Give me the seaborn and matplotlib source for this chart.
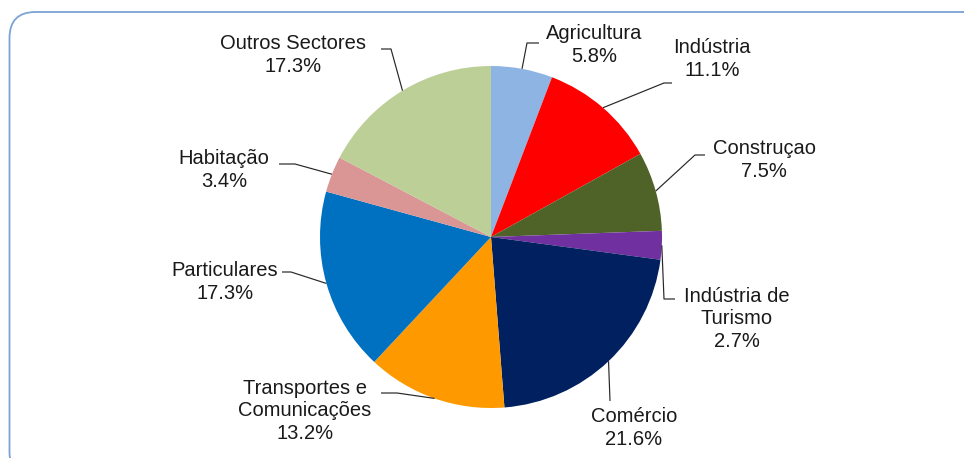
import matplotlib
matplotlib.use("Agg")
import matplotlib.pyplot as plt
import numpy as np
import seaborn as sns
from matplotlib.patches import FancyBboxPatch

# ---- data ----
sectors = ["Agricultura", "Indústria", "Construçao", "Indústria de\nTurismo",
           "Comércio", "Transportes e\nComunicações", "Particulares",
           "Habitação", "Outros Sectores"]
shares = [5.8, 11.1, 7.5, 2.7, 21.6, 13.2, 17.3, 3.4, 17.3]
pct_labels = ["5.8%", "11.1%", "7.5%", "2.7%", "21.6%", "13.2%", "17.3%", "3.4%", "17.3%"]
colors = ["#8EB4E3", "#FF0000", "#4F6228", "#7030A0", "#002060",
          "#FF9900", "#0070C0", "#D99694", "#BBCF96"]

# ---- layout (pixel coords, y from top) ----
W, H = 964, 458
CX, CY, R = 491, 237, 171
# text block centre, leader elbow, leader end
label_pos = [(594, 45), (712, 59), (764, 160), (737, 319), (634, 428),
             (305, 411), (225, 282), (224, 170), (293, 55)]
elbows = [(527, 43), (664, 83), (695, 155), (664, 299), (610, 401),
          (397, 393), (291, 272), (295, 164), (391, 49)]
ends = [(539, 43), (672, 83), (705, 155), (675, 299), (610, 401),
        (381, 393), (282, 272), (279, 164), (381, 49)]

sns.set_theme(style="white")
plt.rcParams["font.family"] = ["Liberation Sans", "DejaVu Sans"]

fig = plt.figure(figsize=(W / 100, H / 100), dpi=100)
ax = fig.add_axes([0, 0, 1, 1])
ax.set_axis_off()

palette = sns.color_palette(colors)
wedges, _ = ax.pie(shares, colors=palette, startangle=90, counterclock=False,
                   radius=R, center=(CX, H - CY),
                   wedgeprops=dict(linewidth=0))
ax.set_xlim(0, W)
ax.set_ylim(0, H)
ax.set_aspect("equal")

# border box
box = FancyBboxPatch((9.5, -20), 990, 466,
                     boxstyle="round,pad=0,rounding_size=26",
                     fill=False, edgecolor="#7BA3D6", linewidth=1.3,
                     transform=ax.transData, zorder=0)
ax.add_patch(box)

for w, name, pct, (tx, ty), (ex, ey), (nx, ny) in zip(
        wedges, sectors, pct_labels, label_pos, elbows, ends):
    ang = np.deg2rad((w.theta1 + w.theta2) / 2)
    ax_, ay_ = CX + R * np.cos(ang), (H - CY) + R * np.sin(ang)
    ax.plot([ax_, ex, nx], [ay_, H - ey, H - ny], color="#262626",
            linewidth=0.85, solid_capstyle="butt", zorder=3)
    ax.text(tx, H - ty, f"{name}\n{pct}", ha="center", va="center",
            fontsize=14.5, color="#1a1a1a", linespacing=1.25, zorder=4)

fig.savefig("out.png", dpi=100)
